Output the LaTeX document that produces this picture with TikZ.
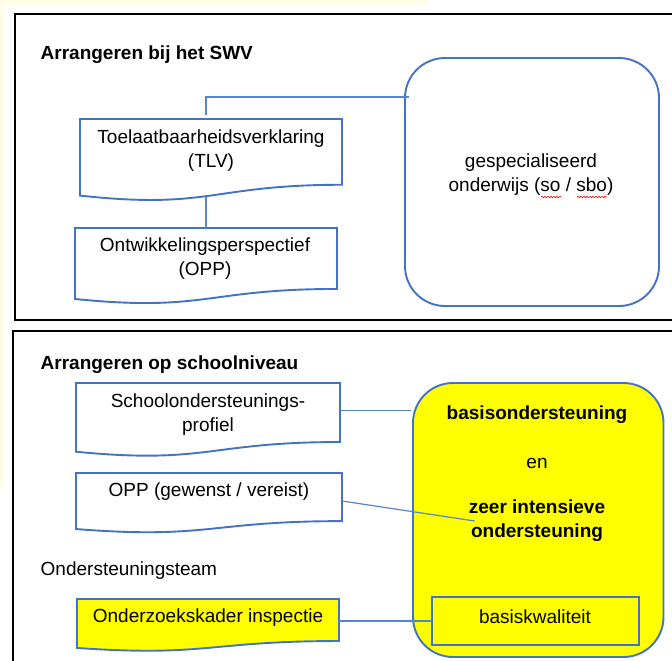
\documentclass[tikz,border=0pt]{standalone}
\usepackage{fontspec}
\setmainfont{Liberation Sans}
\usetikzlibrary{calc,decorations.pathmorphing}
\definecolor{obl}{HTML}{4472C4}
\definecolor{cbl}{HTML}{5585CC}
\definecolor{cream}{HTML}{FFFDE6}
\definecolor{yel}{HTML}{FFFF00}
\newcommand{\docpath}[2]{%
  \path[docline, fill=#2] (#1.north west) -- (#1.north east)
    -- ($(#1.north east)!0.802!(#1.south east)$)
    .. controls ($(#1.north)!0.802!(#1.south)$) and ($(#1.north)!1.1075!(#1.south)$)
    .. ($(#1.north west)!0.934!(#1.south west)$) -- cycle;}
\tikzset{
  frame/.style={draw=black, line width=2pt},
  shapebox/.style={rectangle, draw=none, inner sep=0pt, outer sep=0pt},
  docline/.style={draw=obl, line width=1.9pt},
  roundbox/.style={rectangle, draw=obl, line width=1.9pt, rounded corners=40pt, inner sep=0pt, outer sep=0pt},
  plainbox/.style={rectangle, draw=obl, line width=1.9pt, inner sep=0pt, outer sep=0pt},
  txt/.style={font=\fontsize{19}{24}\selectfont, align=center, inner sep=0pt},
  btxt/.style={font=\fontsize{19}{24}\selectfont\bfseries, align=center, inner sep=0pt},
  conn/.style={draw=cbl, line width=1.2pt},
  squig/.style={draw=red, line width=0.6pt, decorate, decoration={snake, amplitude=0.8pt, segment length=3pt}}
}
\begin{document}
\begin{tikzpicture}[x=1pt,y=-1pt]
\useasboundingbox (0,0) rectangle (672,661);
\clip (0,0) rectangle (672,661);
\fill[white] (0,0) rectangle (672,661);
\fill[cream] (0,0) rectangle (427,5.3);
\fill[cream] (0,0) rectangle (3.3,488);

% frames
\draw[frame] (14.5,14) rectangle (700,320);
\draw[frame] (13,331) rectangle (700,700);

% titles
\node[btxt, anchor=base west] (t1) at (40.5,59.3) {Arrangeren bij het SWV};
\node[btxt, anchor=base west] (t2) at (40.5,369.3) {Arrangeren op schoolniveau};
\node[txt, anchor=base west] (t3) at (40.5,575) {Ondersteuningsteam};

% top section shapes
\node[shapebox, minimum width=262pt, minimum height=82pt] (tlv) at (211,160) {};
\docpath{tlv}{white}
\node[shapebox, minimum width=262pt, minimum height=76pt] (opp) at (206,266) {};
\docpath{opp}{white}
\node[roundbox, fill=white, minimum width=254pt, minimum height=248pt] (so) at (532,182) {};

\node[txt] (tlvt) at (211,151) {Toelaatbaarheidsverklaring\\(TLV)};
\node[txt] (oppt) at (205,259) {Ontwikkelingsperspectief\\(OPP)};
\node[txt] (sot) at (531,175) {gespecialiseerd\\onderwijs (so / sbo)};
\draw[squig] (541,197) -- (561,197);
\draw[squig] (577,197) -- (607,197);

% bottom section shapes
\node[shapebox, minimum width=264pt, minimum height=73.6pt] (school) at (208,419.8) {};
\docpath{school}{white}
\node[shapebox, minimum width=266pt, minimum height=60pt] (opp2) at (209,503) {};
\docpath{opp2}{white}
\node[shapebox, minimum width=262pt, minimum height=52.4pt] (onder) at (208,625.2) {};
\docpath{onder}{yel}
\node[roundbox, fill=yel, minimum width=250.5pt, minimum height=274pt] (basis) at (538.25,520) {};
\node[plainbox, fill=yel, minimum width=207pt, minimum height=48pt] (bk) at (535.1,621) {};

\node[txt] (schoolt) at (208,415) {Schoolondersteunings-\\profiel};
\node[txt] (opp2t) at (209,492) {OPP (gewenst / vereist)};
\node[txt] (ondert) at (208,618) {Onderzoekskader inspectie};
\node[btxt] (bo) at (537,415) {basisondersteuning};
\node[txt] (en) at (537,463) {en};
\node[btxt] (zio) at (537,521) {zeer intensieve\\ondersteuning};
\node[txt] (bkt) at (535,617) {basiskwaliteit};

% connectors
\draw[conn] ($(tlv.north)+(-5,-4)$) |- ($(so.west)+(4,-85)$);
\draw[conn] ([yshift=4pt]opp.north |- tlv.south) -- (opp.north);
\draw[conn] ($(school.east)+(0,-9)$) -- ($(school.east -| basis.west)+(-2,-9)$);
\draw[conn] ([yshift=2pt]opp2.east) -- ([xshift=6pt]zio.west);
\draw[conn] (bk.west -| onder.east) -- (bk.west);
\end{tikzpicture}
\end{document}
